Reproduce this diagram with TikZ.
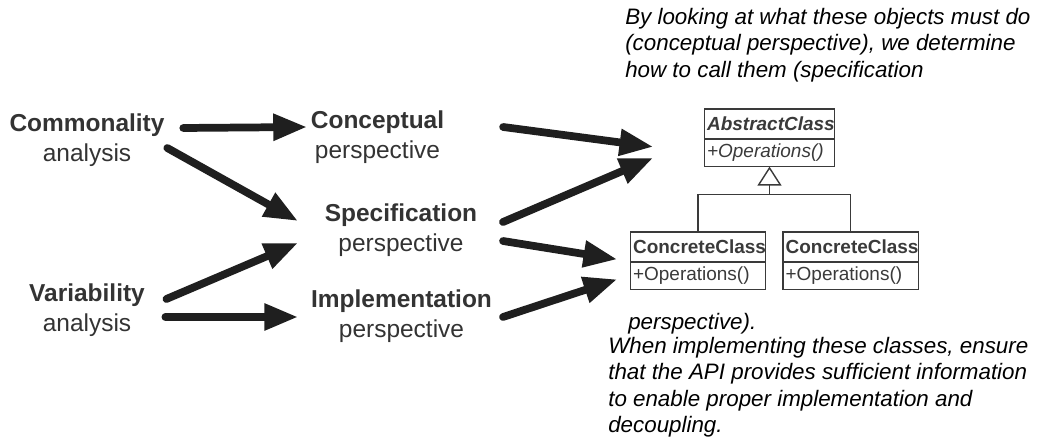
\documentclass[tikz,border=0pt]{standalone}
\usepackage{fontspec}
\setmainfont{Liberation Sans}
\usepackage{tikz}
\usetikzlibrary{arrows.meta,positioning}
\definecolor{scanInk}{HTML}{333333}
\definecolor{arrowInk}{HTML}{1F1F1F}
\definecolor{umlInk}{HTML}{3A3A3A}
\tikzset{
  stage/.style={inner sep=0pt,align=center,text=scanInk,
    font=\fontsize{17.4pt}{21.3pt}\selectfont},
  arrow/.style={-{Triangle[length=24pt,width=18pt]},line width=5.5pt,
    draw=arrowInk,line cap=round},
  umlbox/.style={rectangle,draw=umlInk,line width=1pt,outer sep=0pt,
    inner xsep=2pt,inner ysep=0pt,align=left,text=umlInk,text width=#1,
    font=\fontsize{13.5pt}{15pt}\selectfont},
  umlline/.style={draw=umlInk,line width=1pt},
  note/.style={inner sep=0pt,align=left,
    font=\fontsize{15.9pt}{18.8pt}\selectfont\itshape}
}
\begin{document}
\begin{tikzpicture}[x=0.025cm,y=-0.025cm]
\useasboundingbox (0,0) rectangle (1043,444);
\node[stage] (comm) at (87,140) {\textbf{Commonality}\\analysis};
\node[stage] (var) at (87,310) {\textbf{Variability}\\analysis};
\node[stage] (concept) at (377.5,137) {\textbf{Conceptual}\\perspective};
\node[stage] (spec) at (401,230) {\textbf{Specification}\\perspective};
\node[stage] (impl) at (401.5,316) {\textbf{Implementation}\\perspective};

\node[umlbox=88.8pt, minimum height=0.75cm] (absname) at (769.5,124) {\textbf{\textit{AbstractClass}}};
\node[umlbox=88.8pt, minimum height=0.69cm, below=0pt of absname] (absops) {\textit{+Operations()}};
\node[umlbox=92.4pt, minimum height=0.75cm] (c1name) at (698,247) {\textbf{ConcreteClass}};
\node[umlbox=92.4pt, minimum height=0.69cm, below=0pt of c1name] (c1ops) {+Operations()};
\node[umlbox=92.4pt, minimum height=0.75cm, right=0.425cm of c1name] (c2name) {\textbf{ConcreteClass}};
\node[umlbox=92.4pt, minimum height=0.69cm, below=0pt of c2name] (c2ops) {+Operations()};
\coordinate[below=0.7cm of absops.south] (joint);

\node[note, anchor=north west] (topnote) at (625,8) {By looking at what these objects must do\\(conceptual perspective), we determine\\how to call them (specification};
\node[note, anchor=north west] (topnoteend) at (628,313) {perspective).};
\node[note, anchor=north west] (botnote) at (608,337) {When implementing these classes, ensure\\that the API provides sufficient information\\to enable proper implementation and\\decoupling.};

\draw[arrow] ([shift={(18.5,-12)}]comm.east) -- ([shift={(-3.6,-10)}]concept.west);
\draw[arrow] ([shift={(2.5,8)}]comm.east) -- ([shift={(-26.6,-9)}]spec.west);
\draw[arrow] ([shift={(21.3,-11)}]var.east) -- ([shift={(-26.6,13)}]spec.west);
\draw[arrow] ([shift={(20.3,7)}]var.east) -- ([shift={(-12.75,1)}]impl.west);
\draw[arrow] ([shift={(58.7,-10)}]concept.east) -- ([shift={(-51,-6)}]absops.west);
\draw[arrow] ([shift={(25.6,-8)}]spec.east) -- ([shift={(-51,5)}]absops.west);
\draw[arrow] ([shift={(25.6,11)}]spec.east) -- ([shift={(-13,-16.5)}]c1ops.west);
\draw[arrow] ([shift={(10.8,1)}]impl.east) -- ([shift={(-13,3.5)}]c1ops.west);

\draw[umlline] (c1name.north) |- (joint) -| (c2name.north);
\draw[umlline,-{Triangle[open,length=0.475cm,width=0.6cm]}] (joint) -- (absops.south);
\end{tikzpicture}
\end{document}
